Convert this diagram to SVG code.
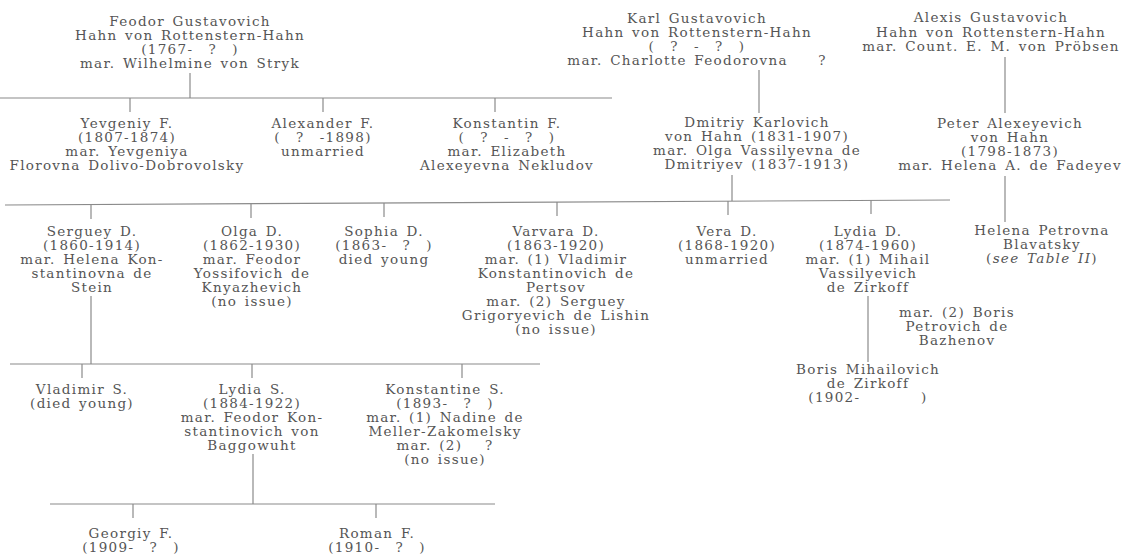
<svg xmlns="http://www.w3.org/2000/svg" width="1123" height="556" viewBox="0 0 1123 556">
<style>
text{font-family:"DejaVu Serif","Liberation Serif",serif;font-size:13.5px;fill:#555;text-anchor:middle;letter-spacing:1.3px;word-spacing:2px}
.it{font-style:italic}
#connectors line{stroke:#8a8a8a;stroke-width:1.2}
</style>
<rect width="1123" height="556" fill="#fff"/>
<g id="connectors">
<line x1="190" y1="73" x2="190" y2="98"/>
<line x1="0" y1="98" x2="612" y2="98"/>
<line x1="130" y1="98" x2="130" y2="112"/>
<line x1="323" y1="98" x2="323" y2="112"/>
<line x1="495" y1="98" x2="495" y2="112"/>
<line x1="759" y1="70" x2="759" y2="113"/>
<line x1="1005" y1="57" x2="1005" y2="113"/>
<line x1="732" y1="175" x2="732" y2="201"/>
<line x1="1005" y1="176" x2="1005" y2="222"/>
<line x1="5" y1="205" x2="950" y2="200"/>
<line x1="91" y1="205" x2="91" y2="219"/>
<line x1="251" y1="204" x2="251" y2="218"/>
<line x1="384" y1="203" x2="384" y2="217"/>
<line x1="557" y1="202" x2="557" y2="216"/>
<line x1="728" y1="201" x2="728" y2="215"/>
<line x1="871" y1="200" x2="871" y2="214"/>
<line x1="868" y1="296" x2="868" y2="362"/>
<line x1="91" y1="296" x2="91" y2="364"/>
<line x1="10" y1="364" x2="540" y2="364"/>
<line x1="82" y1="364" x2="82" y2="378"/>
<line x1="252" y1="364" x2="252" y2="378"/>
<line x1="462" y1="364" x2="462" y2="378"/>
<line x1="253" y1="454" x2="253" y2="504"/>
<line x1="50" y1="504" x2="495" y2="504"/>
<line x1="133" y1="504" x2="133" y2="518"/>
<line x1="376" y1="504" x2="376" y2="518"/>
</g>
<g id="feodor"><text><tspan x="190" y="26">Feodor Gustavovich</tspan><tspan x="190" y="40">Hahn von Rottenstern-Hahn</tspan><tspan x="190" y="54">(1767-&#160;&#160;?&#160;&#160;)</tspan><tspan x="190" y="68">mar. Wilhelmine von Stryk</tspan></text></g>
<g id="karl"><text><tspan x="697" y="23">Karl Gustavovich</tspan><tspan x="697" y="37">Hahn von Rottenstern-Hahn</tspan><tspan x="697" y="51">(&#160;&#160;?&#160;&#160;-&#160;&#160;?&#160;&#160;)</tspan><tspan x="697" y="65">mar. Charlotte Feodorovna&#160;&#160;&#160;&#160;?</tspan></text></g>
<g id="alexis"><text><tspan x="991" y="22">Alexis Gustavovich</tspan><tspan x="991" y="37">Hahn von Rottenstern-Hahn</tspan><tspan x="991" y="51">mar. Count. E. M. von Pröbsen</tspan></text></g>
<g id="yevgeniy"><text><tspan x="127" y="128">Yevgeniy F.</tspan><tspan x="127" y="142">(1807-1874)</tspan><tspan x="127" y="156">mar. Yevgeniya</tspan><tspan x="127" y="170">Florovna Dolivo-Dobrovolsky</tspan></text></g>
<g id="alexander"><text><tspan x="323" y="128">Alexander F.</tspan><tspan x="323" y="142">(&#160;&#160;?&#160;&#160;-1898)</tspan><tspan x="323" y="156">unmarried</tspan></text></g>
<g id="konstantin"><text><tspan x="507" y="128">Konstantin F.</tspan><tspan x="507" y="142">(&#160;&#160;?&#160;&#160;-&#160;&#160;?&#160;&#160;)</tspan><tspan x="507" y="156">mar. Elizabeth</tspan><tspan x="507" y="170">Alexeyevna Nekludov</tspan></text></g>
<g id="dmitriy"><text><tspan x="757" y="127">Dmitriy Karlovich</tspan><tspan x="757" y="141">von Hahn (1831-1907)</tspan><tspan x="757" y="155">mar. Olga Vassilyevna de</tspan><tspan x="757" y="169">Dmitriyev (1837-1913)</tspan></text></g>
<g id="peter"><text><tspan x="1010" y="128">Peter Alexeyevich</tspan><tspan x="1010" y="142">von Hahn</tspan><tspan x="1010" y="156">(1798-1873)</tspan><tspan x="1010" y="170">mar. Helena A. de Fadeyev</tspan></text></g>
<g id="serguey"><text><tspan x="92" y="236">Serguey D.</tspan><tspan x="92" y="250">(1860-1914)</tspan><tspan x="92" y="264">mar. Helena Kon-</tspan><tspan x="92" y="278">stantinovna de</tspan><tspan x="92" y="292">Stein</tspan></text></g>
<g id="olga"><text><tspan x="252" y="236">Olga D.</tspan><tspan x="252" y="250">(1862-1930)</tspan><tspan x="252" y="264">mar. Feodor</tspan><tspan x="252" y="278">Yossifovich de</tspan><tspan x="252" y="292">Knyazhevich</tspan><tspan x="252" y="306">(no issue)</tspan></text></g>
<g id="sophia"><text><tspan x="384" y="236">Sophia D.</tspan><tspan x="384" y="250">(1863-&#160;&#160;?&#160;&#160;)</tspan><tspan x="384" y="264">died young</tspan></text></g>
<g id="varvara"><text><tspan x="556" y="236">Varvara D.</tspan><tspan x="556" y="250">(1863-1920)</tspan><tspan x="556" y="264">mar. (1) Vladimir</tspan><tspan x="556" y="278">Konstantinovich de</tspan><tspan x="556" y="292">Pertsov</tspan><tspan x="556" y="306">mar. (2) Serguey</tspan><tspan x="556" y="320">Grigoryevich de Lishin</tspan><tspan x="556" y="334">(no issue)</tspan></text></g>
<g id="vera"><text><tspan x="727" y="236">Vera D.</tspan><tspan x="727" y="250">(1868-1920)</tspan><tspan x="727" y="264">unmarried</tspan></text></g>
<g id="lydia-d"><text><tspan x="868" y="236">Lydia D.</tspan><tspan x="868" y="250">(1874-1960)</tspan><tspan x="868" y="264">mar. (1) Mihail</tspan><tspan x="868" y="278">Vassilyevich</tspan><tspan x="868" y="292">de Zirkoff</tspan><tspan x="957" y="317">mar. (2) Boris</tspan><tspan x="957" y="331">Petrovich de</tspan><tspan x="957" y="345">Bazhenov</tspan></text></g>
<g id="helena"><text><tspan x="1042" y="235">Helena Petrovna</tspan><tspan x="1042" y="249">Blavatsky</tspan><tspan x="1042" y="263">(<tspan class="it">see Table II</tspan>)</tspan></text></g>
<g id="boris"><text><tspan x="868" y="374">Boris Mihailovich</tspan><tspan x="868" y="388">de Zirkoff</tspan><tspan x="868" y="402">(1902-&#160;&#160;&#160;&#160;&#160;&#160;&#160;&#160;)</tspan></text></g>
<g id="vladimir"><text><tspan x="82" y="394">Vladimir S.</tspan><tspan x="82" y="408">(died young)</tspan></text></g>
<g id="lydia-s"><text><tspan x="252" y="394">Lydia S.</tspan><tspan x="252" y="408">(1884-1922)</tspan><tspan x="252" y="422">mar. Feodor Kon-</tspan><tspan x="252" y="436">stantinovich von</tspan><tspan x="252" y="450">Baggowuht</tspan></text></g>
<g id="konstantine"><text><tspan x="445" y="394">Konstantine S.</tspan><tspan x="445" y="408">(1893-&#160;&#160;?&#160;&#160;)</tspan><tspan x="445" y="422">mar. (1) Nadine de</tspan><tspan x="445" y="436">Meller-Zakomelsky</tspan><tspan x="445" y="450">mar. (2)&#160;&#160;&#160;?</tspan><tspan x="445" y="464">(no issue)</tspan></text></g>
<g id="georgiy"><text><tspan x="131" y="538">Georgiy F.</tspan><tspan x="131" y="552">(1909-&#160;&#160;?&#160;&#160;)</tspan></text></g>
<g id="roman"><text><tspan x="377" y="538">Roman F.</tspan><tspan x="377" y="552">(1910-&#160;&#160;?&#160;&#160;)</tspan></text></g>
</svg>
